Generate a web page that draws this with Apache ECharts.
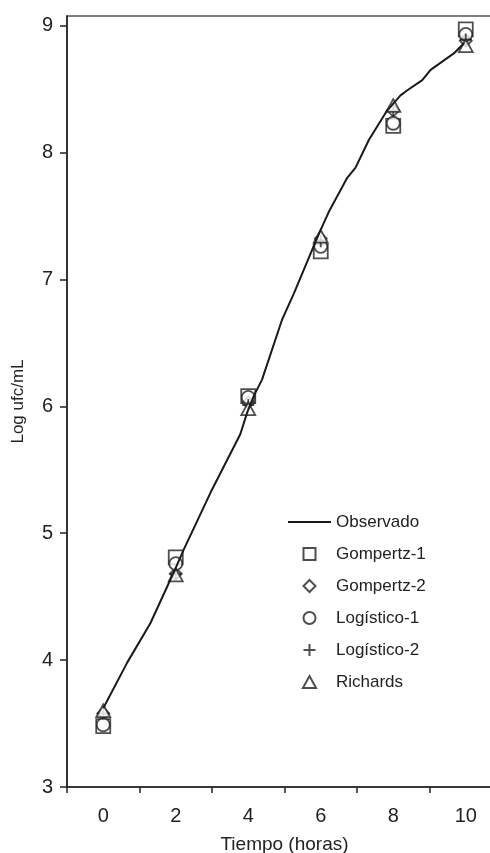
<!DOCTYPE html>
<html><head><meta charset="utf-8">
<script src="https://cdn.jsdelivr.net/npm/echarts@6/dist/echarts.min.js"></script>
<style>html,body{margin:0;padding:0;background:#fff}#c{width:490px;height:853px}</style>
</head><body><div id="c"></div>
<script>
// ---- data ----
const hours = [0, 2, 4, 6, 8, 10];
const obsX = [0, 0.66, 1.3, 1.99, 2.22, 2.96, 3.78, 3.97, 4.15, 4.38, 4.93, 5.26, 5.95, 6.22, 6.73, 6.96, 7.33, 7.83, 8.2, 8.39, 8.8, 9.03, 9.67, 9.95];
const obsY = [3.62, 3.98, 4.29, 4.72, 4.87, 5.32, 5.78, 5.95, 6.08, 6.21, 6.68, 6.89, 7.36, 7.53, 7.80, 7.88, 8.10, 8.33, 8.45, 8.49, 8.57, 8.65, 8.78, 8.86];
const gompertz1 = [3.48, 4.81, 6.08, 7.22, 8.21, 8.97];
const gompertz2 = [3.58, 4.68, 6.03, 7.32, 8.33, 8.88];
const logistico1 = [3.49, 4.76, 6.07, 7.26, 8.23, 8.93];
const logistico2 = [3.58, 4.68, 6.01, 7.30, 8.33, 8.89];
const richards = [3.60, 4.67, 5.98, 7.34, 8.37, 8.84];
const xTickValues = [-1, 1, 3, 5, 7, 9];
const xLabelValues = [0, 2, 4, 6, 8, 10];
const yValues = [3, 4, 5, 6, 7, 8, 9];
const names = ['Observado', 'Gompertz-1', 'Gompertz-2', 'Logístico-1', 'Logístico-2', 'Richards'];

const pairs = (xs, ys) => xs.map((x, i) => [x, ys[i]]);
const FONT = 'Liberation Sans, Arial, sans-serif';
const INK = '#222';
const markerStyle = { color: '#fff', borderColor: INK, borderWidth: 1.8 };
const squarePath = 'path://M0,0 L10,0 L10,10 L0,10 Z';
const diamondPath = 'path://M5,0 L10,5 L5,10 L0,5 Z';
const circlePath = 'path://M10,5 A5,5 0 1,1 0,5 A5,5 0 1,1 10,5 Z';
const plusPath = 'path://M5,0 L5,10 M0,5 L10,5';
const trianglePath = 'path://M5.5,0 L11,10 L0,10 Z';

const chart = echarts.init(document.getElementById('c'), null, { renderer: 'canvas' });
chart.setOption({
  animation: false,
  backgroundColor: '#fff',
  grid: { left: 67, top: 16, width: 435, height: 771, show: true, borderColor: '#555', borderWidth: 1.5, backgroundColor: 'transparent', outerBoundsMode: 'none', containLabel: false },
  xAxis: {
    type: 'value', min: -1, max: 11,
    name: 'Tiempo (horas)', nameLocation: 'middle', nameGap: 48,
    nameTextStyle: { fontFamily: FONT, fontSize: 19, color: '#222' },
    axisLine: { onZero: false, lineStyle: { color: INK, width: 1.6 } },
    axisTick: { show: true, inside: false, length: 6, lineStyle: { color: INK, width: 1.5 }, customValues: xTickValues },
    axisLabel: { fontFamily: FONT, fontSize: 20, color: '#222', margin: 19, customValues: xLabelValues },
    splitLine: { show: false }
  },
  yAxis: {
    type: 'value', min: 3, max: 9.075,
    name: 'Log ufc/mL', nameLocation: 'middle', nameGap: 40,
    nameTextStyle: { fontFamily: FONT, fontSize: 17, color: '#222' },
    axisLine: { show: true, onZero: false, lineStyle: { color: INK, width: 1.6 } },
    axisTick: { show: true, inside: false, length: 7, lineStyle: { color: INK, width: 1.5 }, customValues: yValues },
    axisLabel: { fontFamily: FONT, fontSize: 20, color: '#222', margin: 14, customValues: yValues },
    splitLine: { show: false }
  },
  legend: {
    orient: 'vertical', left: 287, top: 513, padding: 0,
    itemWidth: 43, itemHeight: 12, itemGap: 14, symbolKeepAspect: true,
    textStyle: { fontFamily: FONT, fontSize: 17, color: '#222', lineHeight: 18 },
    data: [{ name: names[0], itemStyle: { opacity: 0 } }, names[1], names[2], names[3], names[4], names[5]]
  },
  series: [
    { name: names[0], type: 'line', data: pairs(obsX, obsY), symbol: 'none', lineStyle: { color: '#1a1a1a', width: 2 }, itemStyle: { color: '#1a1a1a' }, z: 3 },
    { name: names[1], type: 'scatter', data: pairs(hours, gompertz1), symbol: squarePath, symbolSize: 14, symbolKeepAspect: true, itemStyle: markerStyle },
    { name: names[2], type: 'scatter', data: pairs(hours, gompertz2), symbol: diamondPath, symbolSize: 12, symbolKeepAspect: true, itemStyle: markerStyle },
    { name: names[3], type: 'scatter', data: pairs(hours, logistico1), symbol: circlePath, symbolSize: 13, symbolKeepAspect: true, itemStyle: markerStyle },
    { name: names[4], type: 'scatter', data: pairs(hours, logistico2), symbol: plusPath, symbolSize: 12, symbolKeepAspect: true, itemStyle: markerStyle },
    { name: names[5], type: 'scatter', data: pairs(hours, richards), symbol: trianglePath, symbolSize: 14, symbolKeepAspect: true, itemStyle: markerStyle }
  ]
});
</script></body></html>
